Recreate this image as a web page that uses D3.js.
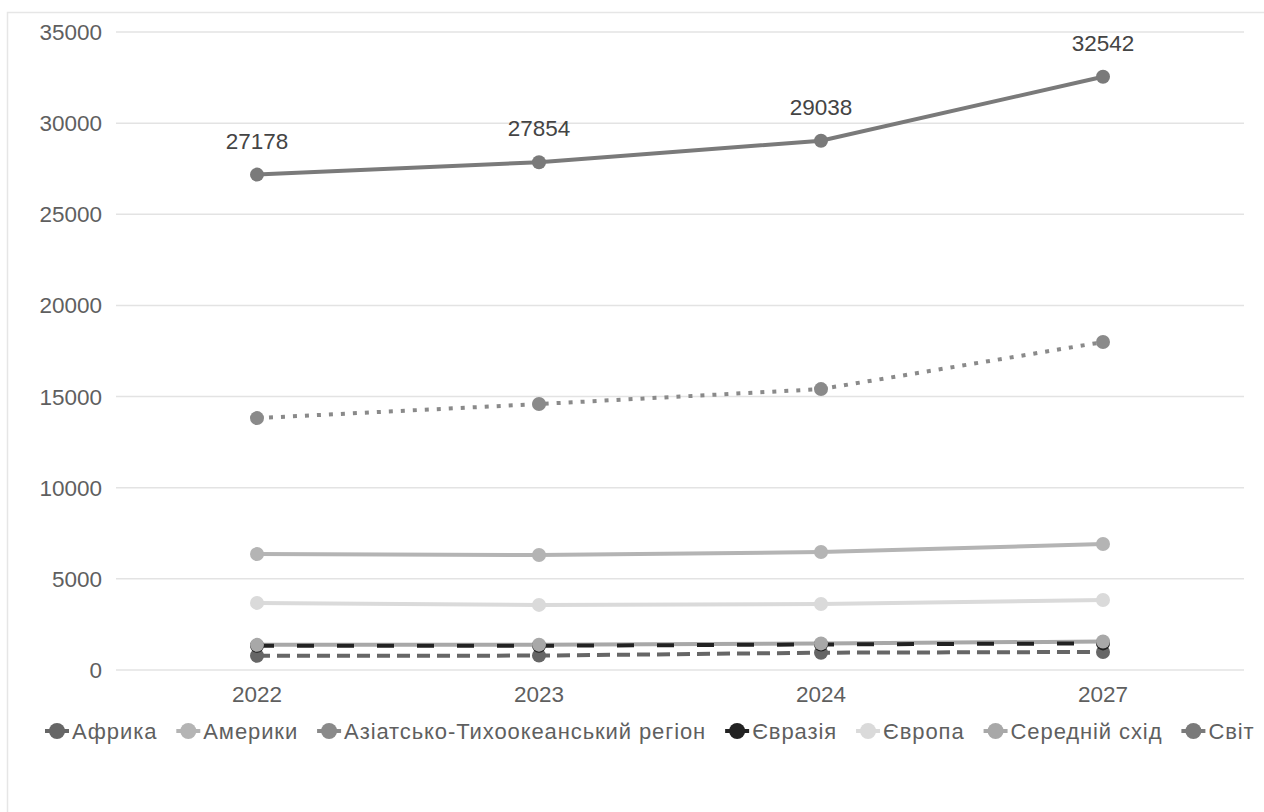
<!DOCTYPE html>
<html><head><meta charset="utf-8">
<script src="https://cdn.jsdelivr.net/npm/d3@7"></script>
<style>body{margin:0;background:#fff}svg{display:block}text{font-family:"Liberation Sans",Arial,sans-serif}</style>
</head><body><svg id="c" width="1264" height="812"></svg>
<script>
const years = ["2022","2023","2024","2027"];
const yTicks = [0,5000,10000,15000,20000,25000,30000,35000];
const seriesNames = ["Африка","Америки","Азіатсько-Тихоокеанський регіон","Євразія","Європа","Середній схід","Світ"];
const africa = [780, 790, 950, 990];
const americas = [6360, 6310, 6470, 6910];
const asiaPacific = [13820, 14590, 15410, 17990];
const eurasia = [1330, 1330, 1400, 1460];
const europe = [3680, 3570, 3620, 3840];
const middleEast = [1380, 1390, 1460, 1560];
const world = [27178, 27854, 29038, 32542];
const worldLabels = ["27178","27854","29038","32542"];

const values = [africa, americas, asiaPacific, eurasia, europe, middleEast, world];
const colors = ["#666666","#b4b4b4","#8a8a8a","#222222","#dadada","#a8a8a8","#7a7a7a"];
const dashes = ["13,7", null, "4,8", "17,23", null, null, null];
const lineOrder = [4,1,5,0,3,2,6];
const markerOrder = [4,1,0,3,5,2,6];

const svg = d3.select("#c");
svg.append("rect").attr("x",7.5).attr("y",12.5).attr("width",1300).attr("height",900)
  .attr("fill","none").attr("stroke","#e6e6e6").attr("stroke-width",1.5);

const x = d3.scaleBand().domain(years).range([116,1244]).padding(0);
const y = d3.scaleLinear().domain([0,35000]).range([670,32]);
const cx = d => x(d) + x.bandwidth()/2;

svg.append("g").selectAll("line").data(yTicks).join("line")
  .attr("x1",116).attr("x2",1244).attr("y1",d=>y(d)).attr("y2",d=>y(d))
  .attr("stroke","#e3e3e3").attr("stroke-width",1.5);
svg.append("g").selectAll("text").data(yTicks).join("text")
  .attr("x",102).attr("y",d=>y(d)+8).attr("text-anchor","end")
  .attr("font-size",22.5).attr("fill","#5f5f5f").text(d=>d);
svg.append("g").selectAll("text").data(years).join("text")
  .attr("x",d=>cx(d)).attr("y",702).attr("text-anchor","middle")
  .attr("font-size",22.5).attr("fill","#5f5f5f").text(d=>d);

const line = d3.line().x((d,i)=>cx(years[i])).y(d=>y(d));
lineOrder.forEach(k=>{
  svg.append("path").datum(values[k]).attr("d",line).attr("fill","none")
    .attr("stroke",colors[k]).attr("stroke-width",4)
    .attr("stroke-dasharray",dashes[k]);
});
markerOrder.forEach(k=>{
  svg.append("g").selectAll("circle").data(values[k]).join("circle")
    .attr("cx",(d,i)=>cx(years[i])).attr("cy",d=>y(d)).attr("r",7).attr("fill",colors[k]);
});
svg.append("g").selectAll("text").data(world).join("text")
  .attr("x",(d,i)=>cx(years[i])).attr("y",d=>y(d)-26).attr("text-anchor","middle")
  .attr("font-size",22.5).attr("fill","#444").text((d,i)=>worldLabels[i]);

const lg = svg.append("g");
let mc = 57;
seriesNames.forEach((n,k)=>{
  const it = lg.append("g");
  it.append("line").attr("x1",mc-12).attr("x2",mc+12).attr("y1",731).attr("y2",731)
    .attr("stroke",colors[k]).attr("stroke-width",4);
  it.append("circle").attr("cx",mc).attr("cy",731).attr("r",8).attr("fill",colors[k]);
  const t = it.append("text").attr("x",mc+15).attr("y",739).attr("font-size",22)
    .attr("letter-spacing","0.9px").attr("fill","#5f5f5f").text(n);
  mc += 15 + t.node().getComputedTextLength() + 31;
});
</script></body></html>
